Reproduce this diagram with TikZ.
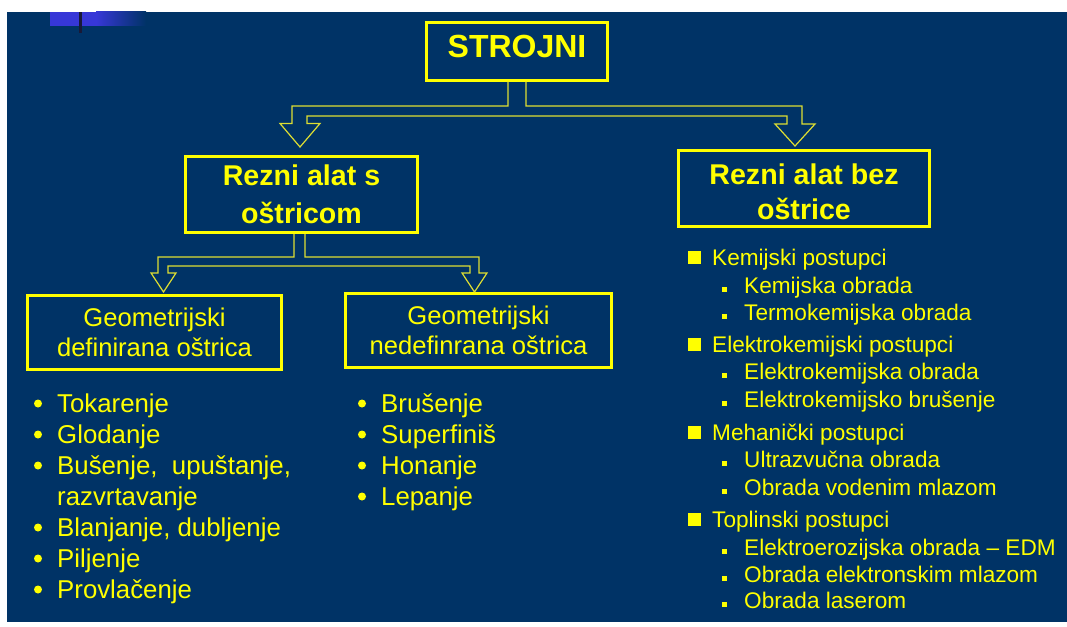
\documentclass[tikz,border=0pt]{standalone}
\usepackage{fontspec}
\setmainfont{Liberation Sans}
\usepackage{xcolor}
\usepackage{tikz}

\definecolor{slidebg}{RGB}{0,51,102}
\definecolor{slideyellow}{RGB}{255,255,0}
\definecolor{branchline}{RGB}{222,222,50}
\definecolor{decoblue}{RGB}{55,55,215}
\definecolor{decoline}{RGB}{25,25,55}

\begin{document}
\begin{tikzpicture}[x=1pt, y=-1pt,
        titlebox/.style={draw=slideyellow, line width=3pt, text=slideyellow, align=center, inner sep=0pt},
        listitem/.style={anchor=base west, text=slideyellow, inner sep=0pt, font=\fontsize{25.8}{30}\selectfont},
        subitem/.style={anchor=base west, text=slideyellow, inner sep=0pt, font=\fontsize{22.6}{27}\selectfont},
        branch/.style={draw=branchline, line width=1.2pt, line join=miter}]
        \useasboundingbox (0,0) rectangle (1067,626);

        % Background
        \fill[white] (0,0) rectangle (1067,626);
        \fill[slidebg] (7,12) rectangle (1067,622);
        \fill[decoblue] (50,12) rectangle (96,26);
        \shade[left color=decoblue, right color=slidebg] (96,12) rectangle (146,26);
        \fill[decoline] (78.5,12) rectangle (81.5,33);

        % Top Level
        \node (strojni) [titlebox, minimum width=181pt, minimum height=57pt, text depth=10pt, font=\bfseries\fontsize{32}{37}\selectfont] at (517,51.5) {STROJNI};

        % Second Level
        \node (rezs) [titlebox, minimum width=232pt, minimum height=76pt, font=\bfseries\fontsize{28.6}{38}\selectfont] at (301.5,194.5) {Rezni alat s\\oštricom};
        \node (rezbez) [titlebox, minimum width=251pt, minimum height=76pt, text height=62pt, font=\bfseries\fontsize{28.6}{35}\selectfont] at (804,188.5) {Rezni alat bez\\oštrice};

        % Third Level
        \node (geodef) [titlebox, minimum width=254pt, minimum height=74pt, font=\fontsize{25.6}{30}\selectfont] at (154.5,332.5) {Geometrijski\\definirana oštrica};
        \node (geonedef) [titlebox, minimum width=266pt, minimum height=74pt, font=\fontsize{25.6}{30}\selectfont] at (478.5,330.5) {Geometrijski\\nedefinrana oštrica};

        % Branch arrows
        \draw [branch] ([xshift=-9pt]strojni.south) -- (508,106) -- (292,106) -- (292,123.5) -- (280,123.5) -- (300,147)
            -- (320,123.5) -- (307,123.5) -- (307,116) -- (787,116) -- (787,124) -- (775,124) -- (795,146)
            -- (815,124) -- (802,124) -- (802,106) -- (526,106) -- ([xshift=9pt]strojni.south);
        \draw [branch] ([xshift=-7.5pt]rezs.south) -- (294,257) -- (158,257) -- (158,273) -- (151,273) -- (163.5,292)
            -- (176,273) -- (168,273) -- (168,266) -- (470,266) -- (470,273) -- (462,273) -- (474.5,292)
            -- (487,273) -- (479,273) -- (479,257) -- (305,257) -- ([xshift=3.5pt]rezs.south);

        % Definirana list
        \foreach \y in {412,443,474,536,567,598}
            \fill[slideyellow] (38,\y-8.5) circle [radius=4pt];
        \node (tok) [listitem] at (57,412) {Tokarenje};
        \node (glod) [listitem] at (57,443) {Glodanje};
        \node (bus) [listitem] at (57,474) {Bušenje,\ \ upuštanje,};
        \node (razv) [listitem] at (57,505) {razvrtavanje};
        \node (blan) [listitem] at (57,536) {Blanjanje, dubljenje};
        \node (pilj) [listitem] at (57,567) {Piljenje};
        \node (provl) [listitem] at (57,598) {Provlačenje};

        % Nedefinirana list
        \foreach \y in {412,443,474,505}
            \fill[slideyellow] (362,\y-8.5) circle [radius=4pt];
        \node (brus) [listitem] at (381,412) {Brušenje};
        \node (superf) [listitem] at (381,443) {Superfiniš};
        \node (hon) [listitem] at (381,474) {Honanje};
        \node (lep) [listitem] at (381,505) {Lepanje};

        % Bez ostrice list
        \foreach \y in {265,352,440,527}
            \fill[slideyellow] (688,\y-14) rectangle (701,\y-1);
        \foreach \y in {293,320,379,407,467,495,555,582,608}
            \fill[slideyellow] (722,\y-6) rectangle (727,\y-1);
        \node (kem) [subitem] at (712,265) {Kemijski postupci};
        \node (kemobr) [subitem] at (744,293) {Kemijska obrada};
        \node (termo) [subitem] at (744,320) {Termokemijska obrada};
        \node (elkem) [subitem] at (712,352) {Elektrokemijski postupci};
        \node (elkemobr) [subitem] at (744,379) {Elektrokemijska obrada};
        \node (elkembr) [subitem] at (744,407) {Elektrokemijsko brušenje};
        \node (meh) [subitem] at (712,440) {Mehanički postupci};
        \node (ultra) [subitem] at (744,467) {Ultrazvučna obrada};
        \node (voda) [subitem] at (744,495) {Obrada vodenim mlazom};
        \node (topl) [subitem] at (712,527) {Toplinski postupci};
        \node (edm) [subitem] at (744,555) {Elektroerozijska obrada – EDM};
        \node (elektr) [subitem] at (744,582) {Obrada elektronskim mlazom};
        \node (laser) [subitem] at (744,608) {Obrada laserom};
    \end{tikzpicture}
\end{document}
